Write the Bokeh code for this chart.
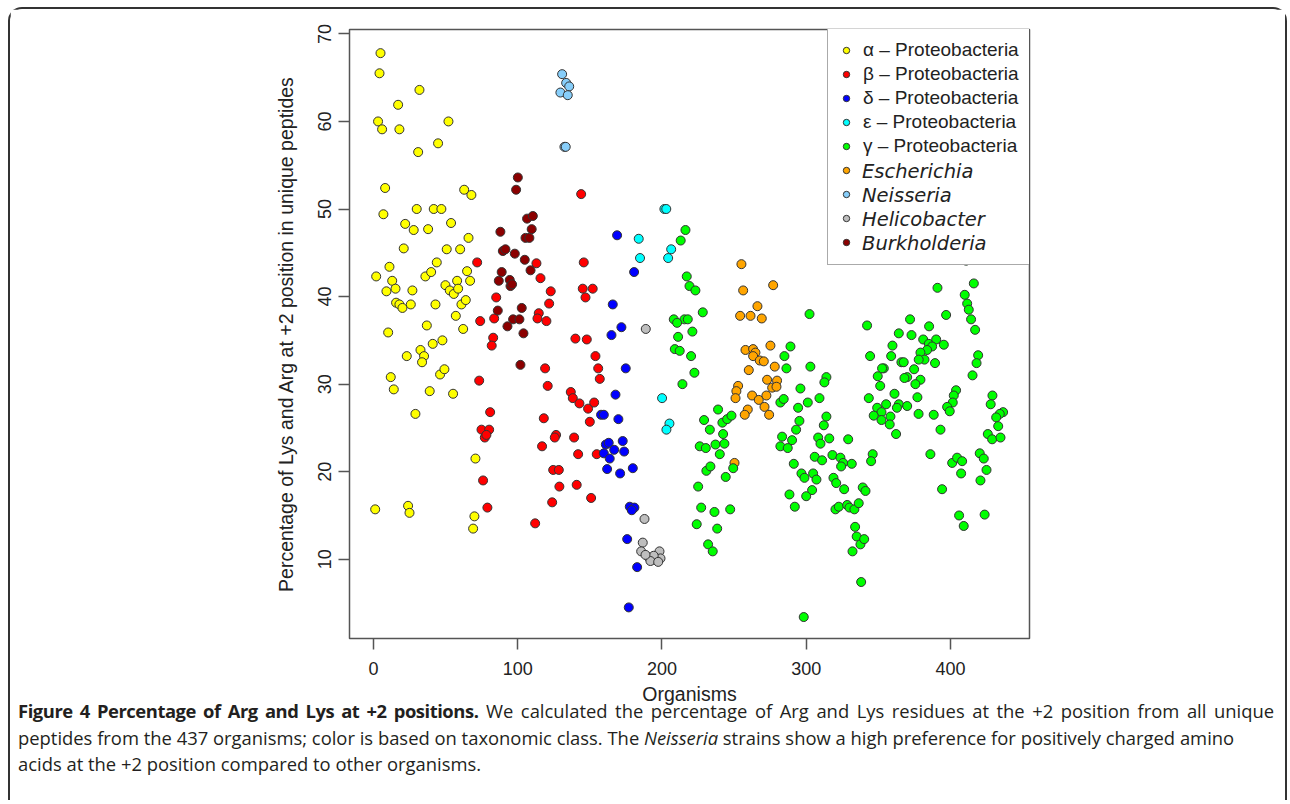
from bokeh.plotting import figure
from bokeh.models import Range1d, Legend, LegendItem, Div, FixedTicker
from bokeh.layouts import column
from bokeh.embed import file_html
from bokeh.resources import INLINE

# ---------------- data (organism index, % Lys+Arg at +2) ----------------
alpha_x = [4.9, 4.2, 31.9, 17.1, 3.2, 6.0, 18.0, 52.0, 44.8, 31.0, 8.1, 62.9, 67.9, 6.9, 30.0, 41.8, 47.1, 22.0,
           27.9, 37.9, 53.8, 65.9, 21.0, 50.8, 60.1, 43.9, 11.1, 1.9, 13.0, 9.0, 15.3, 27.0, 36.0, 40.0, 64.9, 58.0,
           67.0, 49.9, 52.9, 55.7, 58.7, 15.7, 18.0, 20.1, 25.9, 43.0, 61.0, 64.0, 57.1, 10.2, 37.0, 62.2, 41.1, 47.8,
           23.1, 32.6, 35.1, 33.7, 46.2, 49.2, 12.0, 14.1, 39.0, 55.2, 29.1, 70.7, 1.2, 24.0, 25.0, 70.0, 69.1]
alpha_y = [67.8, 65.5, 63.6, 61.9, 60.0, 59.1, 59.1, 60.0, 57.5, 56.5, 52.4, 52.2, 51.6, 49.4, 50.0, 50.0, 50.0, 48.3,
           47.6, 47.7, 48.4, 46.7, 45.5, 45.4, 45.4, 43.9, 43.4, 42.3, 41.8, 40.6, 40.9, 40.7, 42.3, 42.8, 42.9, 41.8,
           41.8, 41.3, 40.7, 40.3, 40.9, 39.3, 39.1, 38.7, 39.1, 39.1, 39.1, 39.6, 37.8, 35.9, 36.7, 36.3, 34.6, 35.0,
           33.2, 33.9, 33.2, 32.5, 31.1, 31.7, 30.8, 29.4, 29.2, 28.9, 26.6, 21.5, 15.7, 16.1, 15.3, 14.9, 13.5]

beta_x = [144.0, 71.9, 113.0, 145.8, 115.8, 122.9, 145.1, 152.0, 147.0, 85.1, 121.8, 114.6, 74.0, 83.7, 113.7, 119.9,
          83.0, 82.0, 140.0, 147.9, 153.9, 155.8, 156.9, 119.0, 120.8, 73.3, 136.8, 138.2, 142.8, 148.8, 153.0, 80.9,
          118.1, 150.0, 74.9, 80.2, 77.2, 78.3, 126.6, 125.7, 139.1, 116.9, 141.9, 154.8, 124.6, 128.5, 76.0, 128.9,
          140.9, 150.9, 123.9, 79.0, 112.1]
beta_y = [51.7, 43.9, 43.8, 43.9, 42.1, 40.6, 40.9, 40.9, 39.9, 39.9, 39.2, 38.1, 37.2, 37.5, 37.5, 37.2,
          35.3, 34.4, 35.2, 35.1, 33.2, 31.8, 30.6, 31.8, 29.8, 30.4, 29.1, 28.4, 27.8, 27.2, 27.9, 26.8,
          26.1, 25.7, 24.8, 24.8, 23.9, 24.2, 24.2, 23.9, 23.9, 22.9, 22.0, 22.0, 20.2, 20.2, 19.0, 18.3,
          18.5, 17.0, 16.5, 15.9, 14.1]

delta_x = [168.9, 180.7, 165.9, 171.9, 165.0, 174.9, 167.8, 157.8, 159.7, 169.8, 161.1, 163.1, 172.8, 166.9, 173.8,
           159.7, 163.8, 162.0, 171.0, 179.8, 177.7, 180.9, 179.1, 175.9, 182.8, 177.0]
delta_y = [47.0, 42.8, 39.1, 36.5, 35.6, 31.8, 28.8, 26.5, 26.5, 26.0, 23.1, 23.3, 23.5, 22.5, 22.3,
           22.1, 21.5, 20.3, 19.8, 20.4, 16.0, 15.9, 15.6, 12.3, 9.1, 4.5]

eps_x = [201.7, 203.0, 183.9, 184.8, 206.4, 204.3, 200.1, 205.2, 203.1]
eps_y = [50.0, 50.0, 46.6, 44.4, 45.4, 44.4, 28.4, 25.5, 24.8]

gamma_x = [216.3, 213.0, 217.2, 219.1, 223.2, 228.3, 302.3, 208.2, 215.6, 217.9,
           210.5, 221.1, 211.2, 208.9, 212.3, 220.2, 222.5, 214.2, 289.1, 284.9, 286.3, 302.9, 314.0, 312.6, 296.0,
           282.1, 284.4, 294.4, 301.1, 309.2, 238.9, 229.2, 233.2, 241.9, 245.2, 248.2, 242.4, 226.2, 230.4, 237.1,
           243.3, 240.1, 230.8, 233.6, 249.4, 244.2, 225.1, 227.2, 236.4, 247.3, 224.1, 238.3, 232.0, 235.2, 283.3,
           290.2, 282.1, 287.2, 293.0, 295.3, 312.2, 314.0, 308.3, 309.9, 305.9, 311.0, 291.4, 296.7, 298.8, 304.8,
           307.1, 304.1, 288.4, 300.0, 292.1, 298.3,
           391.9, 410.9, 416.2, 391.0, 409.9, 411.6, 412.7, 414.3, 417.1, 397.0, 342.2, 372.0, 385.2, 364.2, 373.0,
           381.1, 385.0, 390.1, 387.3, 383.8, 379.2, 382.0, 378.0, 395.4, 359.8, 344.3, 358.9, 366.0, 367.6, 389.3,
           353.8, 352.6, 374.8, 419.2, 418.1, 415.3, 349.6, 370.0, 368.1, 379.2, 375.7, 351.3, 403.9, 402.3, 401.6,
           397.7, 399.5, 429.1, 427.9, 436.5, 434.2, 431.7, 377.1, 361.2, 364.2, 362.9, 370.0, 343.4, 355.4, 349.2,
           352.2, 388.4, 377.9, 346.8, 358.4,
           316.0, 318.2, 323.7, 325.6, 331.6, 324.2, 329.1, 346.1, 345.0, 318.9, 320.8, 326.3, 339.2, 341.1, 320.3,
           322.6, 328.4, 330.0, 333.4, 336.4, 333.9, 335.0, 337.6, 340.2, 332.1, 338.1, 352.2, 357.9, 362.3, 393.1,
           386.1, 401.2, 404.6, 408.1, 407.4, 394.2, 406.0, 409.2, 423.7, 420.8, 425.0, 420.3, 423.1, 425.9, 428.9,
           434.7, 433.1]
gamma_y = [47.6, 46.4, 42.3, 41.2, 40.7, 38.2, 38.0, 37.4, 37.4, 37.4,
           37.0, 36.0, 35.4, 34.0, 33.8, 33.2, 31.3, 30.0, 34.3, 33.2, 31.8, 32.0, 30.8, 30.2, 29.5,
           27.9, 28.3, 27.3, 27.9, 28.4, 27.1, 25.9, 24.8, 25.6, 26.0, 26.4, 24.3, 22.9, 22.7, 23.1,
           23.2, 22.0, 20.1, 20.6, 20.4, 19.4, 18.3, 15.9, 15.4, 15.7, 14.0, 13.5, 11.7, 10.9, 24.0,
           23.6, 22.9, 22.7, 24.8, 25.8, 25.3, 26.3, 23.9, 23.2, 21.7, 21.3, 20.9, 19.8, 19.3, 19.8,
           19.1, 17.9, 17.4, 17.2, 16.0, 3.4,
           46.9, 44.1, 41.5, 41.0, 40.2, 39.2, 38.5, 37.4, 36.2, 37.9, 36.7, 37.4, 36.6, 35.8, 35.6,
           35.1, 34.6, 35.1, 34.3, 33.9, 33.6, 32.8, 32.8, 34.5, 34.4, 33.2, 33.2, 32.5, 32.5, 32.4,
           31.8, 31.8, 31.7, 33.3, 32.4, 31.0, 30.9, 30.8, 30.7, 30.5, 30.0, 29.8, 29.3, 28.7, 27.9,
           27.4, 26.9, 28.7, 27.7, 26.8, 26.6, 26.2, 28.5, 28.9, 27.7, 27.3, 27.5, 28.4, 27.7, 27.3,
           26.8, 26.5, 26.6, 26.4, 26.3,
           23.8, 21.9, 21.6, 21.0, 20.9, 20.6, 23.7, 22.0, 21.2, 19.3, 18.7, 18.0, 18.2, 17.8, 15.7,
           16.0, 16.2, 15.9, 15.7, 16.4, 13.7, 12.6, 11.7, 12.3, 10.9, 7.4, 25.9, 25.4, 24.3, 24.8,
           22.0, 21.0, 21.6, 21.2, 19.8, 18.0, 15.0, 13.8, 15.1, 19.0, 20.2, 22.1, 21.5, 24.3, 23.7,
           23.9, 25.2]

esch_x = [255.1, 256.3, 277.1, 266.2, 254.2, 261.4, 269.2, 257.9, 263.2, 264.8, 263.2, 267.8, 270.6, 275.2, 278.2,
          260.2, 272.9, 279.8, 276.4, 279.4, 252.8, 251.6, 251.0, 262.5, 267.1, 272.4, 271.1, 274.3, 259.5, 257.4,
          250.3]
esch_y = [43.7, 40.7, 41.3, 38.9, 37.8, 37.8, 37.5, 33.9, 34.0, 33.6, 33.2, 32.7, 32.6, 34.4, 32.0,
          31.6, 30.5, 30.4, 29.6, 29.7, 29.8, 29.2, 28.4, 28.7, 28.2, 28.7, 27.4, 26.5, 27.1, 26.5,
          21.0]

neis_x = [130.8, 133.6, 135.7, 129.6, 134.7, 132.4, 133.3]
neis_y = [65.4, 64.4, 64.0, 63.3, 63.0, 57.1, 57.1]

helico_x = [188.8, 187.9, 186.7, 185.6, 198.3, 190.9, 193.2, 195.5, 199.0, 194.3, 192.0, 197.4, 188.6]
helico_y = [36.3, 14.6, 11.9, 10.9, 10.9, 10.2, 9.9, 10.0, 10.1, 10.4, 9.8, 9.7, 10.5]

burk_x = [100.1, 98.9, 106.5, 110.5, 109.7, 88.0, 105.4, 108.1, 89.7, 91.5, 98.0, 104.9, 108.9, 88.9, 86.9, 94.5,
          95.0, 96.1, 86.2, 102.8, 96.8, 101.2, 92.9, 104.0, 101.9]
burk_y = [53.6, 52.2, 48.9, 49.2, 47.7, 47.4, 46.7, 46.7, 45.2, 45.4, 44.9, 44.2, 43.0, 42.8, 41.8, 41.9,
          41.2, 41.4, 38.4, 38.7, 37.4, 37.4, 36.6, 35.8, 32.2]

group_labels = ["α – Proteobacteria", "β – Proteobacteria", "δ – Proteobacteria", "ε – Proteobacteria",
                "γ – Proteobacteria", "Escherichia", "Neisseria", "Helicobacter", "Burkholderia"]
group_colors = ["#FFFF00", "#FF0000", "#0000FF", "#00FFFF", "#00FF00", "#FFA500", "#87CEFA", "#BEBEBE", "#8B0000"]
group_data = [(alpha_x, alpha_y), (beta_x, beta_y), (delta_x, delta_y), (eps_x, eps_y), (gamma_x, gamma_y),
              (esch_x, esch_y), (neis_x, neis_y), (helico_x, helico_y), (burk_x, burk_y)]

x_ticks = [0, 100, 200, 300, 400]
y_ticks = [10, 20, 30, 40, 50, 60, 70]

FONT = "Liberation Sans"
INK = "#222222"
BOX = "#555555"

p = figure(frame_width=680, frame_height=609,
           min_border_left=339, min_border_right=256, min_border_top=20, min_border_bottom=76,
           x_range=Range1d(-16.6, 454.8), y_range=Range1d(0.95, 70.5),
           output_backend="svg", toolbar_location=None)
p.xgrid.visible = False
p.ygrid.visible = False
p.outline_line_color = BOX
p.outline_line_width = 1.5
p.background_fill_color = "white"
p.border_fill_color = "white"

for ax in (p.xaxis[0], p.yaxis[0]):
    ax.axis_line_color = None
    ax.major_tick_line_color = BOX
    ax.major_tick_line_width = 1.5
    ax.major_tick_out = 11
    ax.major_tick_in = 0
    ax.minor_tick_line_color = None
    ax.major_label_text_font = FONT
    ax.major_label_text_font_size = "18px"
    ax.major_label_text_color = INK
    ax.axis_label_text_font = FONT
    ax.axis_label_text_font_size = "19.5px"
    ax.axis_label_text_font_style = "normal"
    ax.axis_label_text_color = INK

p.xaxis.ticker = FixedTicker(ticks=x_ticks)
p.yaxis.ticker = FixedTicker(ticks=y_ticks)
p.xaxis.axis_label = "Organisms"
p.yaxis.axis_label = "Percentage of Lys and Arg at +2 position in unique peptides"
p.xaxis.major_label_standoff = 12
p.xaxis.axis_label_standoff = 5
p.yaxis.major_label_orientation = "vertical"
p.yaxis.major_label_standoff = 7
p.yaxis.axis_label_standoff = 19

order = [0, 1, 8, 6, 2, 7, 3, 5, 4]
rmap = {}
for i in order:
    xs, ys = group_data[i]
    rmap[i] = p.scatter(xs, ys, size=9, marker="circle", fill_color=group_colors[i],
                        line_color="#333333", line_width=1)

# legend: first five upright, last four italic (two overlapping legends)
common = dict(glyph_width=16, glyph_height=24, label_height=24, label_width=157, label_standoff=9,
              spacing=0, margin=0, label_text_color=INK, level="underlay")
items_a = [LegendItem(label=(group_labels[i] if i < 5 else " "), renderers=[rmap[i]]) for i in range(9)]
leg_a = Legend(items=items_a, location=(478, 373), padding=10, border_line_color=BOX, border_line_width=1.5,
               background_fill_color="white", background_fill_alpha=1.0,
               label_text_font=FONT, label_text_font_size="19px", **common)
items_b = []
for i in range(5, 9):
    d = p.scatter([], [], size=1, fill_alpha=0, line_alpha=0)
    items_b.append(LegendItem(label=group_labels[i], renderers=[d]))
leg_b = Legend(items=items_b, location=(488, 383), padding=0, border_line_color=None,
               background_fill_alpha=0.0, label_text_font="DejaVu Sans", label_text_font_size="19.5px",
               label_text_font_style="italic", **common)
p.add_layout(leg_a)
p.add_layout(leg_b)

caption_html = (
    '<div style="font-family:\'Open Sans\'; font-size:18.4px; line-height:26.5px; color:#231f20; '
    'padding-left:8px; position:relative; top:-16px;">'
    '<div style="width:1256px; text-align:justify; text-align-last:justify;">'
    '<b style="letter-spacing:-0.45px;">Figure 4 Percentage of Arg and Lys at +2 positions.</b> We calculated the '
    'percentage of Arg and Lys residues at the +2 position from all unique</div>'
    '<div style="white-space:nowrap;">peptides from the 437 organisms; color is based on taxonomic class. '
    'The <i>Neisseria</i> strains show a high preference for positively charged amino</div>'
    '<div style="white-space:nowrap;">acids at the +2 position compared to other organisms.</div>'
    '</div>'
)
caption = Div(text=caption_html, width=1275, height=86, margin=(0, 0, 0, 0))

layout = column(p, caption, margin=(7, 0, 0, 8), styles={
    "border-top": "2px solid #333", "border-left": "2px solid #333", "border-right": "2px solid #333",
    "border-top-left-radius": "14px", "border-top-right-radius": "14px", "background": "white"})

open("out.html", "w").write(file_html(layout, INLINE))
